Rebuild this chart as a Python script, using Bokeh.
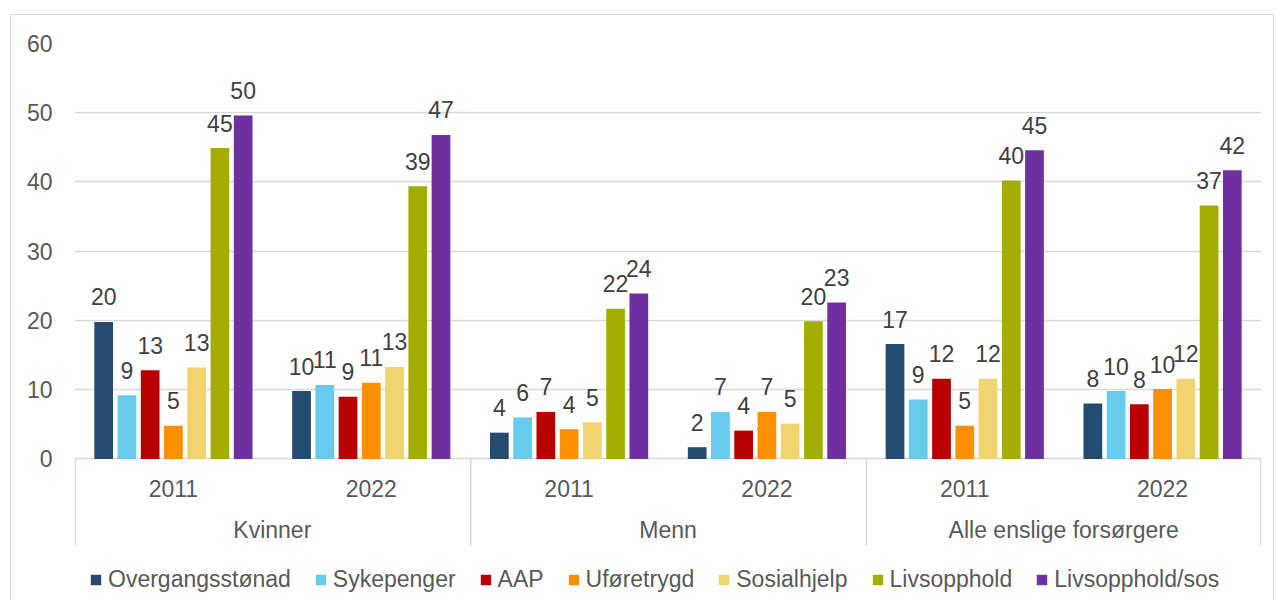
from bokeh.plotting import figure
from bokeh.models import (FactorRange, FixedTicker, Legend, LegendItem,
                          ColumnDataSource, Range1d)
from bokeh.transform import dodge
from bokeh.core.properties import value
from bokeh.embed import file_html
from bokeh.resources import INLINE

groups = ["Kvinner", "Menn", "Alle enslige forsørgere"]
years = ["2011", "2022"]
series = ["Overgangsstønad", "Sykepenger", "AAP", "Uføretrygd",
          "Sosialhjelp", "Livsopphold", "Livsopphold/sos"]
colors = ["#254C6F", "#66CBEC", "#B80000", "#FF8F00",
          "#F1D36F", "#A3AE00", "#7030A0"]

# order: Kvinner 2011, Kvinner 2022, Menn 2011, Menn 2022, Alle 2011, Alle 2022
overgangsstonad = [19.8, 9.8, 3.8, 1.7, 16.6, 8.0]
sykepenger = [9.2, 10.7, 6.0, 6.8, 8.6, 9.8]
aap = [12.8, 9.0, 6.8, 4.1, 11.6, 7.9]
uforetrygd = [4.8, 11.0, 4.3, 6.8, 4.8, 10.1]
sosialhjelp = [13.2, 13.3, 5.3, 5.1, 11.6, 11.6]
livsopphold = [44.9, 39.4, 21.7, 19.9, 40.2, 36.6]
livsopphold_sos = [49.6, 46.8, 23.9, 22.6, 44.6, 41.7]

values_list = [overgangsstonad, sykepenger, aap, uforetrygd,
               sosialhjelp, livsopphold, livsopphold_sos]

FONT = "Liberation Sans"
factors = [(g, y) for g in groups for y in years]

data = {"x": factors}
for i, vals in enumerate(values_list):
    data[f"v{i}"] = vals
    data[f"l{i}"] = [str(int(round(v))) for v in vals]
src = ColumnDataSource(data)

YMIN = -20.58      # frame extends down to the bottom of the chart
SEP_BOTTOM = -12.49

p = figure(x_range=FactorRange(*factors, range_padding=0, group_padding=0,
                               factor_padding=0, subgroup_padding=0),
           y_range=Range1d(YMIN, 60),
           width=1264, height=586, output_backend="svg",
           toolbar_location=None, min_border_left=63, min_border_right=14,
           min_border_top=28, min_border_bottom=0)
p.margin = (14, 0, 0, 10)
p.styles = {"border-top": "1px solid #d9d9d9",
            "border-left": "1px solid #d9d9d9",
            "border-right": "1px solid #d9d9d9"}
p.outline_line_color = None
p.background_fill_color = "white"
p.border_fill_color = "white"

step = 0.1175
bw = 0.0946
renderers = []
for i, (name, col) in enumerate(zip(series, colors)):
    off = (i - 3) * step
    r = p.vbar(x=dodge("x", off, range=p.x_range), top=f"v{i}", width=bw,
               source=src, fill_color=col, line_color=None)
    renderers.append(r)
    p.text(x=dodge("x", off, range=p.x_range), y=f"v{i}", text=f"l{i}",
           source=src, text_align="center", text_baseline="middle",
           y_offset=-25, text_font=value(FONT), text_font_size="23px",
           text_color="#404040")

# category axis (years and groups) drawn below the zero line
p.text(x=factors, y=[-4.26] * len(factors), text=[f[1] for f in factors],
       text_align="center", text_baseline="middle", text_font=value(FONT),
       text_font_size="23px", text_color="#595959")
p.text(x=groups, y=[-10.25] * len(groups), text=groups,
       text_align="center", text_baseline="middle", text_font=value(FONT),
       text_font_size="23px", text_color="#595959")

left_edges = [(g, years[0]) for g in groups]
right_edge = [(groups[-1], years[-1])]
sep_l = ColumnDataSource({"bx": left_edges})
sep_r = ColumnDataSource({"bx": right_edge})
p.segment(x0=dodge("bx", -0.497, range=p.x_range), y0=0,
          x1=dodge("bx", -0.497, range=p.x_range), y1=SEP_BOTTOM,
          source=sep_l, line_color="#d9d9d9", line_width=1.5)
p.segment(x0=dodge("bx", 0.497, range=p.x_range), y0=0,
          x1=dodge("bx", 0.497, range=p.x_range), y1=SEP_BOTTOM,
          source=sep_r, line_color="#d9d9d9", line_width=1.5)

p.xaxis.visible = False
p.xgrid.grid_line_color = None
p.ygrid.grid_line_color = "#d9d9d9"
p.ygrid.grid_line_width = 1.5
p.yaxis.ticker = FixedTicker(ticks=[0, 10, 20, 30, 40, 50, 60])
p.yaxis.axis_line_color = None
p.yaxis.major_tick_line_color = None
p.yaxis.minor_tick_line_color = None
p.yaxis.major_tick_out = 0
p.yaxis.major_tick_in = 0
p.yaxis.major_label_standoff = 22
p.yaxis.major_label_text_font = FONT
p.yaxis.major_label_text_font_size = "23px"
p.yaxis.major_label_text_color = "#595959"

legend = Legend(items=[LegendItem(label=s, renderers=[r])
                       for s, r in zip(series, renderers)],
                orientation="horizontal", location=(15, 8),
                glyph_width=13, glyph_height=13, label_standoff=6,
                spacing=23, label_text_font=FONT, label_text_font_size="23px",
                label_text_color="#595959", border_line_color=None,
                background_fill_alpha=0, padding=0, margin=0)
p.add_layout(legend)

open("out.html", "w").write(file_html(p, INLINE))
